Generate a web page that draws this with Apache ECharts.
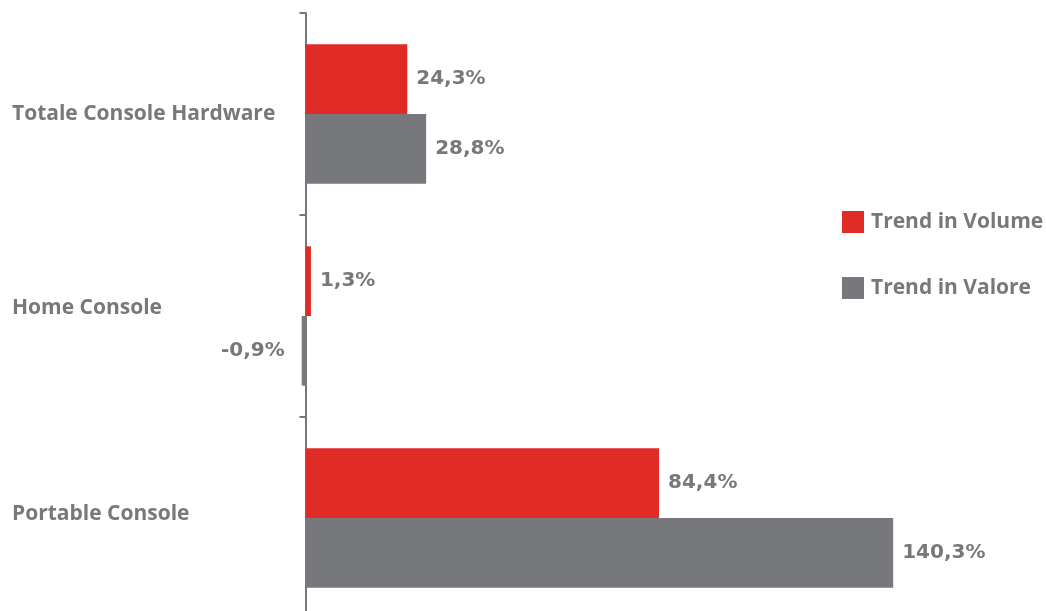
<!DOCTYPE html>
<html>
<head>
<meta charset="utf-8">
<script src="https://cdn.jsdelivr.net/npm/echarts@6/dist/echarts.min.js"></script>
<style>
  html, body { margin: 0; padding: 0; background: #ffffff; }
  #chart { width: 1046px; height: 611px; }
</style>
</head>
<body>
<div id="chart"></div>
<script>
// Console market trends
const categories = ['Totale Console Hardware', 'Home Console', 'Portable Console'];
const trendVolume = [24.3, 1.3, 84.4];
const trendValore = [28.8, -0.9, 140.3];
const seriesNames = ['Trend in Volume', 'Trend in Valore'];

const RED = '#e02b26';
const GREY = '#77787b';
const FONT = '"Open Sans", sans-serif';
const VALUE_FONT = '"DejaVu Sans", sans-serif';

const GRID_LEFT = 263.6;
const CAPTION_X = 12;
// small upward nudges for the category captions (px)
const captionLift = [0, 8, 4];

function fmt(v) {
  return v.toFixed(1).replace('.', ',') + '%';
}

function barData(values) {
  return values.map(v => v < 0
    ? { value: v, label: { position: 'left', distance: 17 } }
    : { value: v });
}

const captionRich = {};
captionLift.forEach((lift, i) => {
  captionRich['c' + i] = {
    color: GREY,
    fontFamily: FONT,
    fontWeight: 'bold',
    fontSize: 21,
    padding: [0, 0, lift * 2, 0]
  };
});

const labelStyle = {
  show: true,
  position: 'right',
  distance: 9,
  color: GREY,
  fontFamily: VALUE_FONT,
  fontWeight: 'bold',
  fontSize: 20,
  formatter: p => fmt(p.value)
};

const chart = echarts.init(document.getElementById('chart'), null, { renderer: 'canvas' });
chart.setOption({
  animation: false,
  backgroundColor: '#ffffff',
  grid: {
    left: GRID_LEFT, right: 28.4, top: 13, height: 606,
    containLabel: false,
    outerBoundsMode: 'none'
  },
  legend: {
    orient: 'vertical',
    left: 842,
    top: 211,
    padding: 0,
    itemWidth: 22,
    itemHeight: 22,
    itemGap: 44,
    icon: 'rect',
    textStyle: { color: GREY, fontFamily: FONT, fontWeight: 'bold', fontSize: 21, padding: [0, 0, 0, 2] },
    data: seriesNames
  },
  xAxis: {
    type: 'value',
    min: -10,
    max: 170,
    show: false
  },
  yAxis: {
    type: 'category',
    inverse: true,
    data: categories,
    axisLine: { show: true, onZero: true, lineStyle: { color: GREY, width: 2 } },
    axisTick: { show: true, length: 6, lineStyle: { color: GREY, width: 2 } },
    axisLabel: {
      show: true,
      interval: 0,
      align: 'left',
      margin: GRID_LEFT - CAPTION_X,
      color: GREY,
      fontFamily: FONT,
      fontWeight: 'bold',
      fontSize: 21,
      formatter: (value, index) => '{c' + index + '|' + value + '}',
      rich: captionRich
    }
  },
  series: [
    {
      name: seriesNames[0],
      type: 'bar',
      data: barData(trendVolume),
      itemStyle: { color: RED },
      barGap: '0%',
      barCategoryGap: '31%',
      label: labelStyle
    },
    {
      name: seriesNames[1],
      type: 'bar',
      data: barData(trendValore),
      itemStyle: { color: GREY },
      barGap: '0%',
      barCategoryGap: '31%',
      label: labelStyle
    }
  ]
});
</script>
</body>
</html>
